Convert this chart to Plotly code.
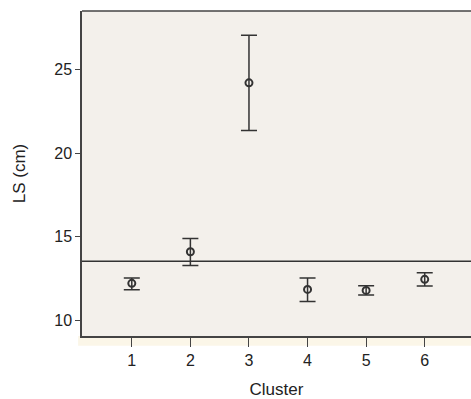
import plotly.graph_objects as go

clusters = [1, 2, 3, 4, 5, 6]
means = [12.2, 14.09, 24.2, 11.84, 11.78, 12.44]
upper = [12.52, 14.89, 27.05, 12.52, 12.06, 12.84]
lower = [11.82, 13.27, 21.35, 11.12, 11.5, 12.04]
ref_value = 13.53
x_ticks = [1, 2, 3, 4, 5, 6]
y_ticks = [10, 15, 20, 25]

err_plus = [u - m for u, m in zip(upper, means)]
err_minus = [m - l for m, l in zip(means, lower)]

fig = go.Figure()
fig.add_trace(go.Scatter(
    x=clusters, y=means, mode="markers",
    marker=dict(symbol="circle-open", size=7, color="#333333", line=dict(width=2)),
    error_y=dict(type="data", symmetric=False, array=err_plus, arrayminus=err_minus,
                 color="#333333", thickness=1.5, width=8),
    showlegend=False,
))
fig.add_hline(y=ref_value, line=dict(color="#333333", width=1.5))

fig.add_shape(type="rect", xref="paper", yref="paper", x0=-0.01, x1=1, y0=-0.03, y1=0,
              fillcolor="#fbf6e8", line=dict(width=0), layer="below")
fig.add_shape(type="line", xref="paper", yref="paper", x0=0, x1=1, y0=1, y1=1,
              line=dict(color="#444444", width=1.5))

fig.update_layout(
    width=471, height=399,
    margin=dict(l=82, r=0, t=11, b=63),
    paper_bgcolor="white", plot_bgcolor="#f3f0eb",
    font=dict(family="Liberation Sans, Arial", size=16, color="#222222"),
    xaxis=dict(range=[0.15, 6.79], tickvals=x_ticks, showgrid=False, zeroline=False,
               showline=True, linecolor="#444444", linewidth=1.5,
               ticks="outside", ticklen=9, tickcolor="#444444",
               title=dict(text="Cluster", font=dict(size=17), standoff=18)),
    yaxis=dict(range=[9.05, 28.5], tickvals=y_ticks, showgrid=False, zeroline=False,
               showline=True, linecolor="#444444", linewidth=1.5,
               ticks="outside", ticklen=5, tickcolor="#444444",
               title=dict(text="LS (cm)", font=dict(size=17), standoff=24)),
)

fig.write_html("out.html")
